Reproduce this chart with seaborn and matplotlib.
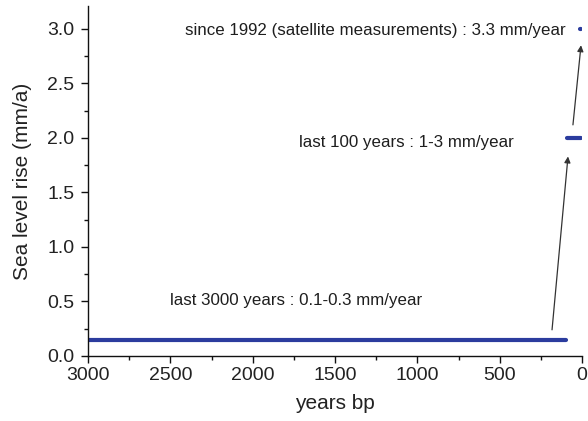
#sea level rise rates over the last 3000 years

import pandas as pd
import numpy as np
import matplotlib
matplotlib.use('Agg')
import matplotlib.pyplot as plt
from matplotlib.ticker import MultipleLocator
import seaborn as sns

sns.set_style('ticks')
plt.rcParams['font.family'] = ['Liberation Sans', 'DejaVu Sans']

# segments: start / end in years bp, rate in mm/a
seg_names = ['last 3000 years', 'last 100 years', 'since 1992']
seg_start = [3000, 90, 14]
seg_end = [100, 6, 4]
seg_rate = [0.15, 2.0, 3.0]

labels = ['last 3000 years : 0.1-0.3 mm/year',
          'last 100 years : 1-3 mm/year',
          'since 1992 (satellite measurements) : 3.3 mm/year']
label_x = [2500, 1718, 2410]
label_y = [0.47, 1.92, 2.94]

# arrows (tail -> head) in data coords
arrow_from = [(182, 0.24), (55, 2.12)]
arrow_to = [(85, 1.83), (6, 2.85)]

rows = []
for name, a, b, r in zip(seg_names, seg_start, seg_end, seg_rate):
    rows.append({'seg': name, 'years': a, 'rate': r})
    rows.append({'seg': name, 'years': b, 'rate': r})
df = pd.DataFrame(rows)

fig = plt.figure(figsize=(5.88, 4.21), dpi=100)
ax = fig.add_axes([0.1497, 0.1544, 0.9898 - 0.1497, 0.9857 - 0.1544])

line_color = '#2b3c9e'
for name in seg_names:
    d = df[df.seg == name]
    sns.lineplot(data=d, x='years', y='rate', ax=ax, color=line_color,
                 linewidth=3, estimator=None, solid_capstyle='round')

for t, x, y in zip(labels, label_x, label_y):
    ax.text(x, y, t, ha='left', va='baseline', fontsize=12.2, color='#1e1e1e')

for (x0, y0), (x1, y1) in zip(arrow_from, arrow_to):
    ax.annotate('', xy=(x1, y1), xytext=(x0, y0),
                arrowprops=dict(arrowstyle='-|>', color='#333333', lw=0.9,
                                mutation_scale=9, shrinkA=0, shrinkB=0))

ax.set_xlim(3000, 0)
ax.set_ylim(0, 3.21)
ax.xaxis.set_major_locator(MultipleLocator(500))
ax.xaxis.set_minor_locator(MultipleLocator(250))
ax.yaxis.set_major_locator(MultipleLocator(0.5))
ax.yaxis.set_minor_locator(MultipleLocator(0.25))
ax.yaxis.set_major_formatter(matplotlib.ticker.FormatStrFormatter('%.1f'))

ax.tick_params(which='major', direction='out', length=5, width=1, labelsize=14,
               labelcolor='#222222', color='#111111', pad=3)
ax.tick_params(axis='y', which='major', pad=5)
ax.tick_params(which='minor', direction='out', length=3, width=1, color='#111111')

sns.despine(ax=ax)
for s in ['left', 'bottom']:
    ax.spines[s].set_color('#111111')
    ax.spines[s].set_linewidth(1)

ax.set_xlabel('years bp', fontsize=15, color='#222222', labelpad=7)
ax.set_ylabel('Sea level rise (mm/a)', fontsize=15, color='#222222', labelpad=11)

fig.savefig('out.png', dpi=100)
